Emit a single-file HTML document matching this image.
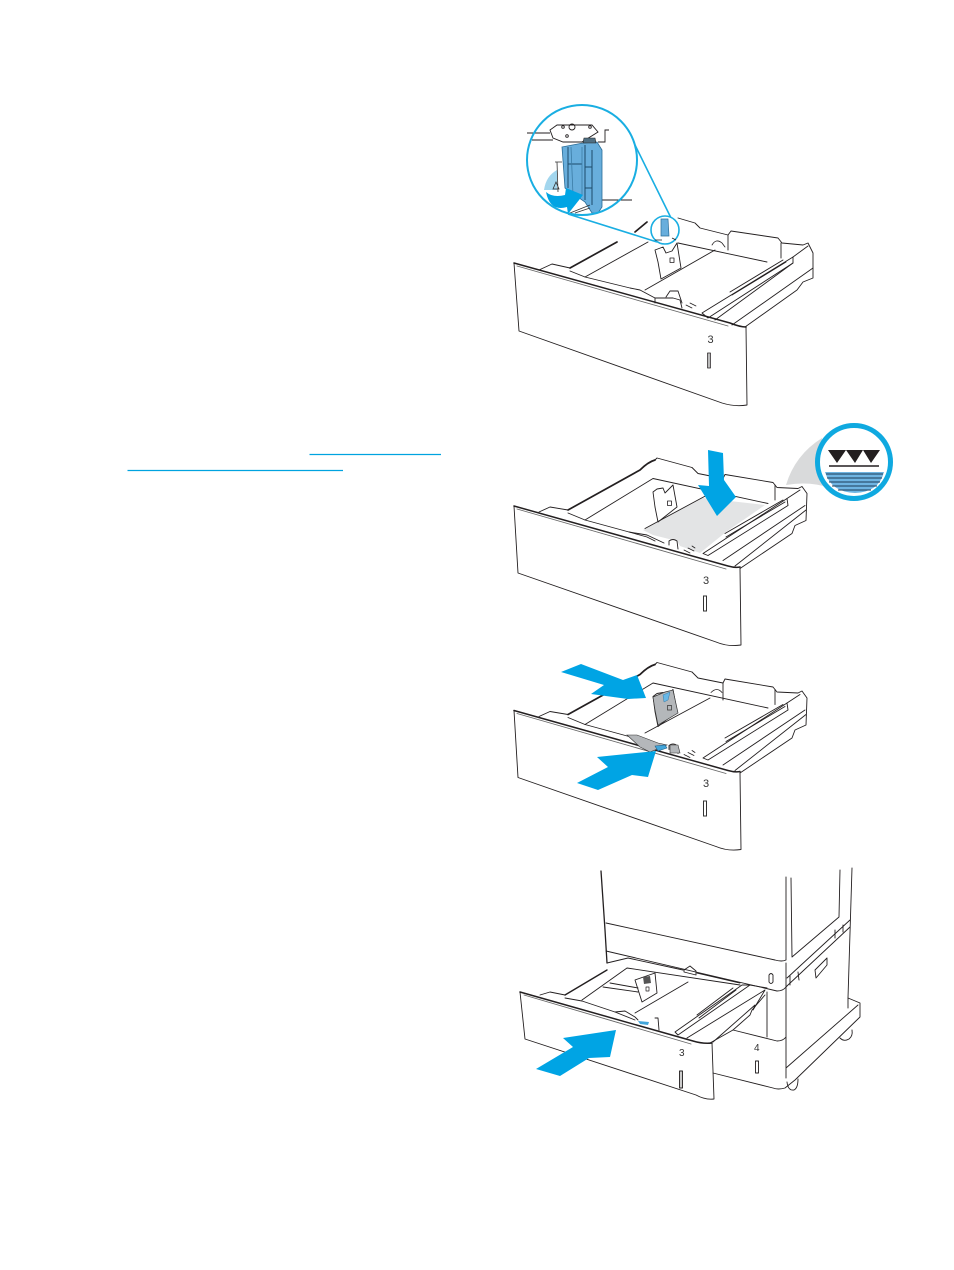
<!DOCTYPE html>
<html><head><meta charset="utf-8"><style>
html,body{margin:0;padding:0;background:#fff}
svg{display:block}
text{font-family:"Liberation Sans",sans-serif;fill:#333}
</style></head><body>
<svg width="954" height="1270" viewBox="0 0 954 1270" xmlns="http://www.w3.org/2000/svg">
<defs>
<g id="trayB" fill="none" stroke="#231f20" stroke-width=".9" stroke-linejoin="round" stroke-linecap="round">
 <path d="M514 506L518 573L716 642Q728 647 741 645L740 568"/>
 <path d="M514 506L728 566Q735 568 740 567" stroke-width="1.500"/>
 <path d="M517 509L726 569" stroke="#666"/>
 <path d="M692 467.500L698 473.500L723 478.500L725 474.500L773 482.500L777 487.500L798 488.500L802 486.500L807 493.500L806 520.500L795 525.500L792 533.500L740 568.500"/>
 <path d="M655 460L657 458L692 467.500"/>
 <path d="M539 512L550 507L568 510" />
 <path d="M568 510L640 470Q648 462 655 460" stroke-width="1.700"/>
 <path d="M585 520L653 478.500L768 503.500"/>
 <path d="M645 528.500L710 493.500"/>
 <path d="M723 478.500V495.500M775 485V500"/>
 <path d="M568 513L585 520L629 532L647 537L655 541"/>
 <path d="M629 532L647 535L664 543"/>
 <path d="M669 545V541Q673 538 677 541L678 549"/>
 <path d="M703 553.500L787 498.500L788 505.500L708 555.500Z" fill="#fff"/>
 <path d="M725 533.500L783 500M726 537L785 502"/>
 <path d="M723 560.500L805 505.500M735 566L806 510"/>
 <path d="M787 498.500L800 490"/>
 <path d="M653 492L657 489L663 488L665 493L673 485L677 507L658 522L655 507Z"/>
 <path d="M667.500 501h4v4.500h-4z" stroke-width=".8"/>
 <path d="M711 488Q717 482 722 488" stroke-width=".8"/>
 <path d="M684 550l6 3M688 548l6 3M692 546l3 2" stroke-width=".8"/>
</g>
</defs>

<!-- underlines -->
<path d="M309.500 454.500H441M127.500 470.500H343" stroke="#00a3e0" stroke-width="1.200" fill="none"/>

<!-- TRAY 1 -->
<g fill="none" stroke="#231f20" stroke-width=".9" stroke-linejoin="round" stroke-linecap="round">
 <path d="M514 263L519 331L722 403Q735 407 747 405L746 327"/>
 <path d="M514 263L730 323Q740 327 746 327" stroke-width="1.500"/>
 <path d="M517 266L728 326" stroke="#666"/>
 <path d="M539 270L552 264L570 268"/>
 <path d="M570 268L617 242M635 232L647 222" stroke-width="1.700"/>
 <path d="M678 218L695 223L700 228L728 235L731 231L778 238L782 243L803 245L808 243L813 253L813 278L803 282L797 290L745 327"/>
 <path d="M585 277L648 242M678 243L767 262"/>
 <path d="M645 290L715 250"/>
 <path d="M728 235V250M781 243V258"/>
 <path d="M570 271L585 277L630 288L640 290L655 298L655 303"/>
 <path d="M655 298L673 298L680 300L682 308"/>
 <path d="M666 297L670 291H678L682 303"/>
 <path d="M702 313L793 257L793 263L708 318Z"/>
 <path d="M730 292L783 260M732 295L786 262"/>
 <path d="M715 320L793 263M732 325L813 268"/>
 <path d="M793 257L808 246"/>
 <path d="M655 250L663 247L666 253L672 251L677 243L681 268L661 279L658 262Z"/>
 <path d="M670 258h4v4.500h-4z" stroke-width=".8"/>
 <path d="M712 245Q716 238 722 243L725 247" stroke-width=".8"/>
 <path d="M686 305l6 3M690 303l6 3" stroke-width=".8"/>
 <path d="M707.500 353h3v15h-3z" fill="#bbb" stroke-width=".7"/>
</g>
<text x="707.500" y="343" font-size="11">3</text>

<!-- magnifier -->
<circle cx="582" cy="160" r="55" fill="#fff"/>
<g fill="none" stroke="#231f20" stroke-width=".9">
 <path d="M527 133H550M532 140H553M598 142H605V130H609M602 200H632"/>
 <path d="M550 130L557 125H592L598 132L582 142H563L553 138Z" fill="#fff"/>
 <circle cx="563" cy="127" r="1.300"/><circle cx="590" cy="127" r="1.300"/><circle cx="572" cy="127" r="3"/><circle cx="567" cy="136" r="1.300"/>
</g>
<path d="M562 147L583 143L597 142L602 150L602 207L598 213L592 213L585 202L565 188Z" fill="#68aedc" stroke="#2a6d98" stroke-width=".8"/>
<path d="M568 147V188M585 145V200M592 150V205M568 164H582M585 167H592M585 188H592" stroke="#1c4b6a" stroke-width="1" fill="none"/>
<path d="M571 147L573 195M582 147V195" stroke="#3b7ca6" stroke-width=".8" fill="none"/>
<path d="M584 138H595L596 143H583Z" fill="#4f6f83" stroke="#222" stroke-width=".6"/>
<path d="M557 170Q546 176 544 190H557V178Z" fill="#a2d6ee"/>
<path d="M555 162H562M557 162L558 192M553 189L556 182L559 189Z" stroke="#333" fill="none" stroke-width=".8"/>
<path d="M546 192Q553 198 565 195L566 188L583 195L568 214L567 207Q550 212 546 192Z" fill="#00a4e4"/>
<path d="M570 213L590 205M575 213L590 208" stroke="#333" stroke-width=".7"/>
<circle cx="582" cy="160" r="55" fill="none" stroke="#19aee2" stroke-width="2"/>
<path d="M635 145L673 222M568 214L657 242" stroke="#19aee2" stroke-width="1.600" fill="none"/>
<circle cx="665" cy="230" r="14" fill="#fff" stroke="#19aee2" stroke-width="1.600"/>
<path d="M661 219H668L669 236H661Z" fill="#68aedc" stroke="#2a6d98" stroke-width=".7"/>
<path d="M655 240H662M672 238L676 240" stroke="#231f20" stroke-width=".8"/>

<!-- TRAY 2 -->
<path d="M786 485Q795 455 822 438L830 488Q810 481 786 485Z" fill="#d9dadb"/>
<path d="M643 530L703 498L765 505L726 532L700 553L680 546L677 541L653 535Z" fill="#e3e4e5"/>
<use href="#trayB"/>
<path d="M708 450L723 453L724 480L736 497L717 516L698 485L709 486Z" fill="#00a4e4"/>
<circle cx="854" cy="462" r="36.500" fill="#fff" stroke="#0fa9e0" stroke-width="5"/>
<path d="M828 450H846L837 463ZM846 450H863L855 463ZM863 450H880L871 463Z" fill="#231f20"/>
<path d="M829 466H879" stroke="#231f20" stroke-width="1.600"/>
<path d="M825 472H884Q879 492 855 493Q831 492 825 472Z" fill="#6eb4e2"/>
<path d="M826 474H883M827 478H882M829 482H880M832 486H877M838 490H871" stroke="#1c3b58" stroke-width=".9"/>
<text x="703" y="584" font-size="11">3</text>
<path d="M703.500 596h3v15h-3z" fill="#fff" stroke="#333"/>

<!-- TRAY 3 -->
<g transform="translate(0,204.500)"><use href="#trayB"/></g>
<path d="M653 697L665 692L673 690L678 713L658 725L655 710Z" fill="#b4b7ba" stroke="#333" stroke-width=".7"/>
<path d="M663 695L670 692L668 700L664 702Z" fill="#68b8e7" stroke="#3a7ca6" stroke-width=".5"/>
<path d="M667.500 705.500h4v4.500h-4z" fill="none" stroke="#333" stroke-width=".7"/>
<path d="M627 735H637L658 743L667 745L650 752L640 747Z" fill="#b4b7ba" stroke="#333" stroke-width=".6"/>
<path d="M670 745H678L680 753H670Z" fill="#b4b7ba" stroke="#333" stroke-width=".6"/>
<path d="M655 746L665 745L667 748L658 751Z" fill="#42a5da" stroke="#1d5f87" stroke-width=".6"/>
<path d="M561 672L581 664L623 680L637 675L646 698L628 699L591 694L604 685Z" fill="#00a4e4"/>
<path d="M577 783L608 767L597 757L656 751L648 777L632 775L598 790Z" fill="#00a4e4"/>
<text x="703" y="787" font-size="11">3</text>
<path d="M703.500 801h3v15h-3z" fill="#fff" stroke="#333"/>

<!-- PRINTER + TRAY 4 -->
<g fill="none" stroke="#231f20" stroke-width=".9" stroke-linejoin="round" stroke-linecap="round">
 <path d="M601 871L605 930L607 963" stroke-width="1.300"/>
 <path d="M606 923L775 960Q782 962 786 960V877M791 878L792 957L839 917L840 870"/>
 <path d="M852 868L848 998L860 1003V1017L795 1080L785 1088Q778 1090 773 1088L713 1073"/>
 <path d="M606 951L777 991Q783 991 786 987L788 985L850 927M787 978L850 920"/>
 <path d="M786 963V1078M786 1068L858 1005M848 998V1008"/>
 <path d="M798 972L799 980M835 930L835 938M843 925L843 932M790 976V985" />
 <path d="M815 970L827 958V965L816 978Z"/>
 <path d="M769 975Q771 972 773 975V982Q771 985 769 982Z"/>
 <path d="M607 963L628 958L683 970M697 973L740 983M750 985L767 988"/>
 <path d="M565 995L607 970" stroke-width="1.400"/>
 <path d="M767 992V1037M733 1030L777 1041Q783 1041 786 1037"/>
 <path d="M787 1082Q788 1091 794 1090Q798 1088 798 1079M840 1038Q844 1042 849 1039Q853 1036 852 1030"/>
 <path d="M755.500 1061h3v12h-3z"/>
 <path d="M520 992L525 1039L696 1095Q705 1100 714 1099L712 1043"/>
 <path d="M520 992L693 1041Q703 1044 712 1043" stroke-width="1.500"/>
 <path d="M524 995L691 1044" stroke="#666"/>
 <path d="M540 995L550 992L565 995"/>
 <path d="M582 1000L627 968L740 985"/>
 <path d="M635 1013L688 982"/>
 <path d="M603 987L638 992M610 983L638 988"/>
 <path d="M565 998L582 1001L615 1012L635 1020"/>
 <path d="M615 1012L625 1011L635 1017L638 1020"/>
 <path d="M655 1018H658L659 1030"/>
 <path d="M635 980L655 973L657 993L642 1002Z"/>
 <path d="M646 987h3v4h-3z" stroke-width=".7"/>
 <path d="M684 970L690 966L696 971V975L684 972Z"/>
 <path d="M675 1032L742 985L750 985L678 1035Z"/>
 <path d="M697 1015L733 988M699 1018L736 990"/>
 <path d="M687 1038L765 990M713 1042L755 1005L753 1010L765 990"/>
 <path d="M710 1043L733 1030L750 1015L752 1010L765 995"/>
 <path d="M679.500 1071h3v17h-3z" fill="#ccc"/>
</g>
<path d="M643 977L650 976L651 983L644 984Z" fill="#555"/>
<path d="M638 1021L649 1022L648 1025L640 1024Z" fill="#42a5da"/>
<text x="754" y="1051" font-size="10">4</text>
<text x="679" y="1056" font-size="10">3</text>
<path d="M536 1069L573 1047L563 1038L616 1030L610 1057L589 1058L560 1076Z" fill="#00a4e4"/>
</svg>
</body></html>
